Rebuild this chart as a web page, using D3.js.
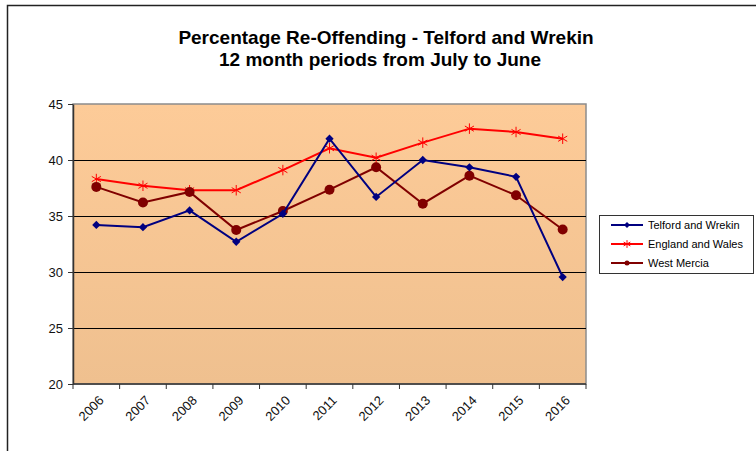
<!DOCTYPE html>
<html>
<head>
<meta charset="utf-8">
<script src="https://cdn.jsdelivr.net/npm/d3@7"></script>
<style>
  body { margin: 0; background: #fff; }
  svg text { font-family: "Liberation Sans", Arial, sans-serif; }
</style>
</head>
<body>
<div id="chart"></div>
<script>
const years = ["2006", "2007", "2008", "2009", "2010", "2011", "2012", "2013", "2014", "2015", "2016"];
const telford = [34.2, 34.0, 35.5, 32.7, 35.2, 41.9, 36.7, 40.0, 39.35, 38.5, 29.55];
const england = [38.3, 37.7, 37.3, 37.3, 39.1, 41.05, 40.2, 41.55, 42.8, 42.5, 41.9];
const westMercia = [37.6, 36.2, 37.15, 33.75, 35.45, 37.35, 39.35, 36.1, 38.6, 36.85, 33.8];
const yTicks = [20, 25, 30, 35, 40, 45];

const series = [
  { name: "Telford and Wrekin", values: telford, color: "#000080", marker: "diamond" },
  { name: "England and Wales", values: england, color: "#ff0000", marker: "star" },
  { name: "West Mercia", values: westMercia, color: "#800000", marker: "circle" }
];

const w = 756;
const h = 451;
const margin = { top: 104, right: 170, bottom: 67, left: 73 };

const svg = d3.select("#chart")
  .append("svg")
  .attr("width", w)
  .attr("height", h);

// outer frame (top + left only visible)
svg.append("path")
  .attr("d", "M7.5,451 L7.5,5.5 L756,5.5")
  .attr("fill", "none")
  .attr("stroke", "#222")
  .attr("stroke-width", 1.5);

const xScale = d3.scaleBand()
  .domain(years)
  .range([margin.left, w - margin.right]);

const yScale = d3.scaleLinear()
  .domain([20, 45])
  .range([h - margin.bottom, margin.top]);

const defs = svg.append("defs");
const grad = defs.append("linearGradient")
  .attr("id", "bg")
  .attr("x1", 0).attr("y1", 0).attr("x2", 0).attr("y2", 1);
grad.append("stop").attr("offset", "0%").attr("stop-color", "#fdcb98");
grad.append("stop").attr("offset", "100%").attr("stop-color", "#efc08f");

svg.append("rect")
  .attr("x", margin.left)
  .attr("y", margin.top)
  .attr("width", w - margin.left - margin.right)
  .attr("height", h - margin.top - margin.bottom)
  .attr("fill", "url(#bg)")
  .attr("stroke", "#8c8c8c")
  .attr("stroke-width", 1.5);

// gridlines
svg.append("g")
  .selectAll("line")
  .data(yTicks.filter(d => d > 20 && d < 45))
  .enter()
  .append("line")
  .attr("x1", margin.left)
  .attr("x2", w - margin.right)
  .attr("y1", d => Math.round(yScale(d)) + 0.5)
  .attr("y2", d => Math.round(yScale(d)) + 0.5)
  .attr("stroke", "#000")
  .attr("stroke-width", 1);

const yAxis = d3.axisLeft(yScale).tickValues(yTicks).tickSize(5).tickPadding(5).tickSizeOuter(0);
const yG = svg.append("g")
  .attr("transform", `translate(${margin.left}, 0)`)
  .call(yAxis);
yG.select(".domain").attr("stroke", "#333").attr("stroke-width", 1.5);
yG.selectAll(".tick line").attr("stroke", "#333");
yG.selectAll("text").style("font-size", "13px").attr("fill", "#111");

// x axis: ticks at category boundaries
const xG = svg.append("g")
  .attr("transform", `translate(0, ${h - margin.bottom})`);
xG.append("line")
  .attr("x1", margin.left).attr("x2", w - margin.right)
  .attr("stroke", "#333").attr("stroke-width", 1.5);
xG.selectAll(".xt")
  .data(years.concat(["end"]))
  .enter()
  .append("line")
  .attr("class", "xt")
  .attr("x1", (d, i) => margin.left + i * xScale.bandwidth())
  .attr("x2", (d, i) => margin.left + i * xScale.bandwidth())
  .attr("y1", 0).attr("y2", 5)
  .attr("stroke", "#333");
xG.selectAll(".xl")
  .data(years)
  .enter()
  .append("text")
  .attr("class", "xl")
  .attr("transform", d => `translate(${xScale(d) + xScale.bandwidth() / 2 + 5}, 14) rotate(-45)`)
  .attr("text-anchor", "end")
  .attr("dy", "0.35em")
  .attr("fill", "#111")
  .style("font-size", "13px")
  .text(d => d);

const cx = d => xScale(d) + xScale.bandwidth() / 2;

const line = d3.line()
  .x((d, i) => cx(years[i]))
  .y(d => yScale(d));

function drawMarker(g, type, color, x, y, s) {
  if (type === "diamond") {
    g.append("path")
      .attr("d", d3.symbol(d3.symbolDiamond2, s * 8)())
      .attr("transform", `translate(${x},${y})`)
      .attr("fill", color);
  } else if (type === "circle") {
    g.append("circle").attr("cx", x).attr("cy", y).attr("r", s).attr("fill", color);
  } else {
    g.append("path")
      .attr("d", d3.symbol(d3.symbolAsterisk, s * 14)())
      .attr("transform", `translate(${x},${y})`)
      .attr("fill", "none")
      .attr("stroke", color)
      .attr("stroke-width", 1);
  }
}

// draw series: England first, then West Mercia, Telford
[series[1], series[2], series[0]].forEach(s => {
  const g = svg.append("g");
  g.append("path")
    .datum(s.values)
    .attr("d", line)
    .attr("fill", "none")
    .attr("stroke", s.color)
    .attr("stroke-width", 2);
  s.values.forEach((v, i) => {
    const size = s.marker === "circle" ? 5 : 5.5;
    drawMarker(g, s.marker, s.color, cx(years[i]), yScale(v), size);
  });
});

// title
const title = svg.append("text")
  .attr("x", 386)
  .attr("text-anchor", "middle")
  .style("font-size", "19px")
  .style("font-weight", "bold");
title.append("tspan").attr("x", 386).attr("y", 44).text("Percentage Re-Offending - Telford and Wrekin");
title.append("tspan").attr("x", 380).attr("y", 66).text("12 month periods from July to June");

// legend
const legend = svg.append("g").attr("transform", "translate(599, 215)");
legend.append("rect")
  .attr("x", 0.5).attr("y", 0.5)
  .attr("width", 154).attr("height", 58)
  .attr("fill", "#fff")
  .attr("stroke", "#333");
series.forEach((s, i) => {
  const y = 10 + i * 19;
  legend.append("line")
    .attr("x1", 12).attr("x2", 44)
    .attr("y1", y).attr("y2", y)
    .attr("stroke", s.color).attr("stroke-width", 2);
  drawMarker(legend, s.marker, s.color, 28, y, s.marker === "circle" ? 2.5 : 3);
  legend.append("text")
    .attr("x", 49).attr("y", y)
    .attr("dy", "0.35em")
    .style("font-size", "11px")
    .text(s.name);
});
</script>
</body>
</html>
